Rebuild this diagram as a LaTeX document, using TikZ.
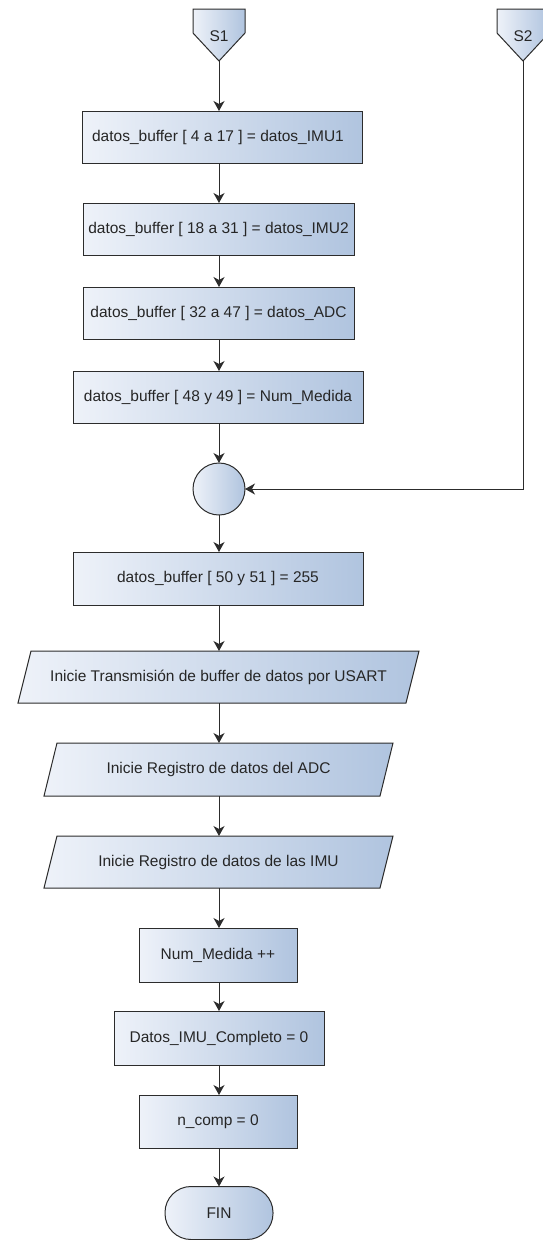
\documentclass[tikz,border=0pt]{standalone}
\usepackage{fontspec}
\setmainfont{Liberation Sans}
\usetikzlibrary{arrows.meta,calc,backgrounds}

\definecolor{fillA}{HTML}{EEF2F9}
\definecolor{fillB}{HTML}{B0C4DF}
\definecolor{edge}{HTML}{2C2C2C}
\definecolor{ink}{HTML}{262626}

\begin{document}
\begin{tikzpicture}[x=1pt,y=-1pt,
  every node/.style={font=\fontsize{15.5}{18}\selectfont, text=ink, inner sep=0pt, outer sep=0pt},
  grad/.style={left color=fillA, right color=fillB, draw=edge, line width=1pt},
  procbox/.style={grad, rectangle, minimum height=52},
  iotext/.style={rectangle, minimum height=52},
  joint/.style={grad, circle, minimum size=52},
  terminal/.style={grad, rectangle, rounded corners=26pt, minimum width=108, minimum height=53},
  arr/.style={draw=edge, line width=1pt, -{Stealth[length=10pt,width=11pt,inset=3pt]}}
]
\useasboundingbox (0,0) rectangle (543,1240);

% off-page connectors
\path[grad] (193,9) -- (245,9) -- (245,33) -- (219,61) -- (193,33) -- cycle;
\path[grad] (497,9) -- (549,9) -- (549,33) -- (523,61) -- (497,33) -- cycle;
\coordinate (s1tip) at (219,61);
\coordinate (s2tip) at (523,61);
\node (s1) at (219,36) {S1};
\node (s2) at (523,36) {S2};

% process boxes
\node[procbox, minimum width=280] (b1) at (222.85,137) {datos\_buffer [ 4 a 17 ] = datos\_IMU1\hspace*{9.7pt}};
\node[procbox, minimum width=271] (b2) at (218.5,229) {datos\_buffer [ 18 a 31 ] = datos\_IMU2};
\node[procbox, minimum width=271] (b3) at (218.5,313) {datos\_buffer [ 32 a 47 ] = datos\_ADC};
\node[procbox, minimum width=290] (b4) at (218,397) {datos\_buffer [ 48 y 49 ] = Num\_Medida};

\node[joint] (c) at (219,489) {};

\node[procbox, minimum width=290, minimum height=53] (b5) at (218,578.5) {datos\_buffer [ 50 y 51 ] = 255};

% input/output steps
\node[iotext, minimum width=388] (p1) at (218.5,677) {Inicie Transmisión de buffer de datos por USART};
\node[iotext, minimum width=336, minimum height=53] (p2) at (218.5,769.5) {Inicie Registro de datos del ADC};
\node[iotext, minimum width=336] (p3) at (218.5,862) {Inicie Registro de datos de las IMU};

\begin{scope}[on background layer]
  \foreach \p in {p1,p2,p3}{
    \path[grad] ($(\p.north west)+(6.5,0)$) -- ($(\p.north east)+(6.5,0)$)
      -- ($(\p.south east)-(6.5,0)$) -- ($(\p.south west)-(6.5,0)$) -- cycle;
  }
\end{scope}

\node[procbox, minimum width=158, minimum height=54] (num) at (218,955) {Num\_Medida ++};
\node[procbox, minimum width=210, minimum height=54] (dat) at (219,1038) {Datos\_IMU\_Completo = 0};
\node[procbox, minimum width=158, minimum height=53] (nc) at (218,1121.5) {n\_comp = 0};

\node[terminal] (fin) at (219,1213) {FIN};

% connectors
\draw[arr] (s1tip) -- (s1tip |- b1.north);
\draw[arr] (b1.south -| s1tip) -- (b2.north -| s1tip);
\draw[arr] (b2.south -| s1tip) -- (b3.north -| s1tip);
\draw[arr] (b3.south -| s1tip) -- (b4.north -| s1tip);
\draw[arr] (b4.south -| s1tip) -- (c.north);
\draw[arr] (s2tip) |- (c.east);
\draw[arr] (c.south) -- (b5.north -| s1tip);
\draw[arr] (b5.south -| s1tip) -- (p1.north -| s1tip);
\draw[arr] (p1.south -| s1tip) -- (p2.north -| s1tip);
\draw[arr] (p2.south -| s1tip) -- (p3.north -| s1tip);
\draw[arr] (p3.south -| s1tip) -- (num.north -| s1tip);
\draw[arr] (num.south -| s1tip) -- (dat.north -| s1tip);
\draw[arr] (dat.south -| s1tip) -- (nc.north -| s1tip);
\draw[arr] (nc.south -| s1tip) -- (fin.north);
\end{tikzpicture}
\end{document}
